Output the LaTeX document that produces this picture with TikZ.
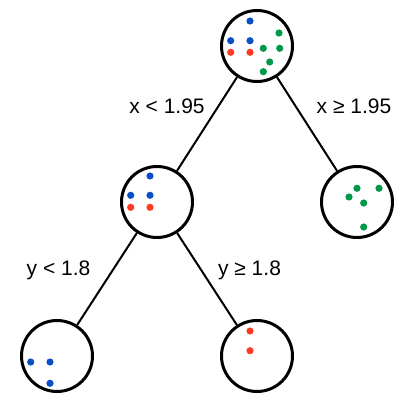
\documentclass[tikz,border=0pt]{standalone}
\usepackage{fontspec}
\setmainfont{Liberation Sans}
\begin{document}
\begin{tikzpicture}[x=1pt,y=-1pt,line width=2pt]
  \definecolor{ptblue}{RGB}{10,80,196}
  \definecolor{ptred}{RGB}{255,58,34}
  \definecolor{ptgreen}{RGB}{0,153,74}
  \tikzset{
    leaf/.style={circle,draw,line width=3pt,minimum size=71pt,inner sep=0pt},
    split/.style={font=\fontsize{21}{25}\selectfont,anchor=base,inner sep=0pt}
  }
  \useasboundingbox (0,0) rectangle (420,403);
  % tree nodes
  \node[leaf] (root) at (257,46) {};
  \node[leaf] (left) at (157,202) {};
  \node[leaf] (right) at (357,202) {};
  \node[leaf] (leftleft) at (57,356) {};
  \node[leaf] (leftright) at (257,356) {};
  % branches
  \draw (root) -- (left) (root) -- (right);
  \draw (left) -- (leftleft) (left) -- (leftright);
  % split conditions
  \node[split] (xlt) at (167,113.5) {x < 1.95};
  \node[split] (xge) at (354,113.5) {x ≥ 1.95};
  \node[split] (ylt) at (58.5,275.5) {y < 1.8};
  \node[split] (yge) at (249.5,275.5) {y ≥ 1.8};
  % points in each node
  \foreach \p in {(250,21),(230.7,40.7),(250,40.7),(150,176),(130.7,195.3),(150,195.3),(30.7,362),(50,362),(50,383.3)}
    \fill[ptblue] \p circle (3.6pt);
  \foreach \p in {(230.7,52.3),(250,52.3),(130.7,207.3),(150,207.3),(250,331),(250,350.7)}
    \fill[ptred] \p circle (3.6pt);
  \foreach \p in {(279,33),(263.3,48.3),(279.7,48.3),(269.7,62),(263.3,71.7),(357,188.3),(379,188.3),(349,197),(363.7,203),(363.7,227)}
    \fill[ptgreen] \p circle (3.6pt);
\end{tikzpicture}
\end{document}
